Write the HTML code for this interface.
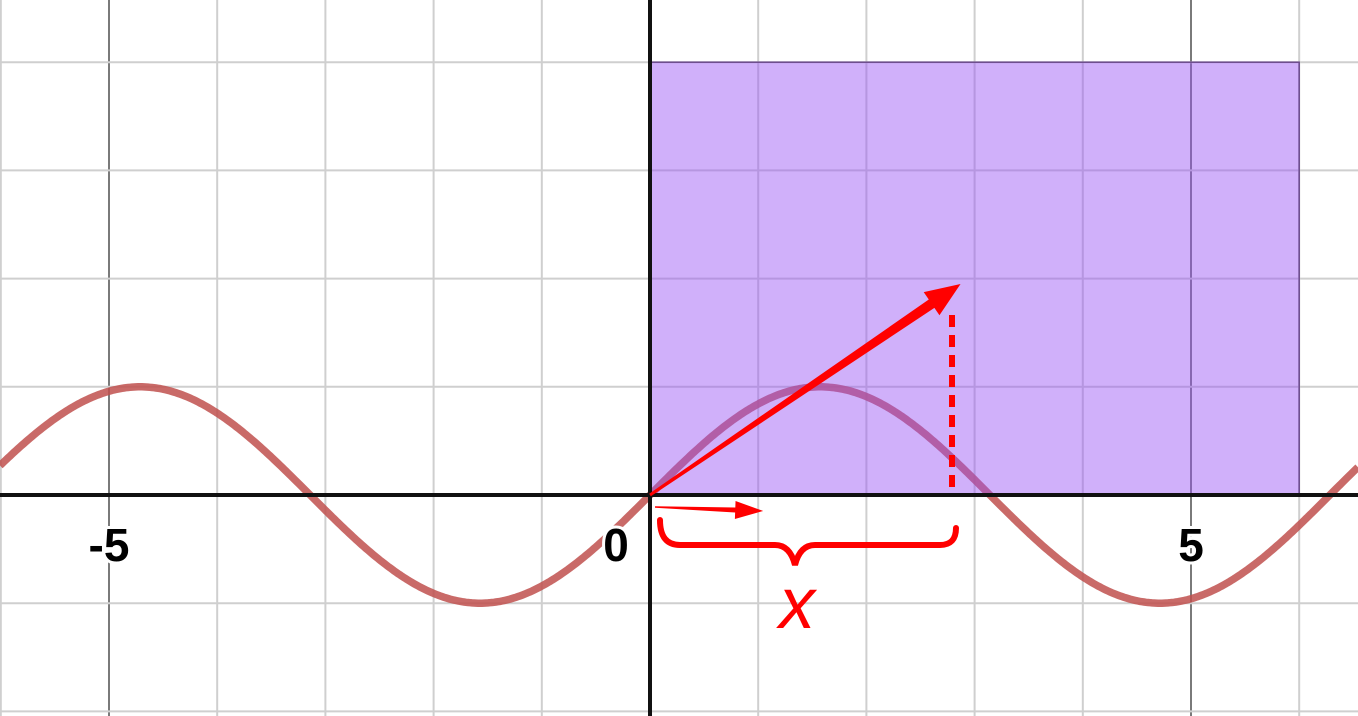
<!DOCTYPE html>
<html><head><meta charset="utf-8"><style>
html,body{margin:0;padding:0;background:#fff;width:1358px;height:716px;overflow:hidden}
svg{display:block;position:absolute;left:0;top:0}
text{font-family:"Liberation Sans",sans-serif}
</style></head><body>
<svg id="chart" width="1358" height="716" viewBox="0 0 1358 716">
<g id="grid"></g>
<g id="curve"></g>
<g id="rectg"></g>
<g id="axes"></g>
<g id="annot"></g>
</svg>
<script>
const xTicks=[-5,0,5];
const tickLabels=["-5","0","5"];
const rectX=[0,6];
const rectY=[0,4];
const vecEnd=[2.87,1.95];
const unitVec=[1,-0.1];
const ox=650, oy=495, ux=108.2, uy=108.2;
function X(v){return ox+v*ux}
function Y(v){return oy-v*uy}
const NS="http://www.w3.org/2000/svg";
function mk(tag,attrs,parent){const e=document.createElementNS(NS,tag);for(const k in attrs)e.setAttribute(k,attrs[k]);parent.appendChild(e);return e;}
const grid=document.getElementById('grid');
for(let i=-7;i<=7;i++){
  const major=(i%5===0);
  const l=mk('line',{x1:X(i),x2:X(i),y1:0,y2:716,stroke:major?'#7a7a7a':'#cfcfcf','stroke-width':2},grid);
  
  
}
for(let j=-2;j<=4;j++){
  const l=mk('line',{x1:0,x2:1358,y1:Y(j),y2:Y(j),stroke:'#cfcfcf','stroke-width':2},grid);
  
  
}
let d='';
for(let px=0;px<=1358;px+=2){const v=(px-ox)/ux;d+=(px?'L':'M')+px+','+Y(Math.sin(v)).toFixed(1);}
const cp=mk('path',{d:d,fill:'none',stroke:'#c0504d','stroke-width':7.5,'stroke-opacity':0.85},document.getElementById('curve'));


const r=mk('rect',{x:X(rectX[0]),y:Y(rectY[1]),width:X(rectX[1])-X(rectX[0]),height:Y(rectY[0])-Y(rectY[1]),fill:'rgba(150,80,245,0.45)',stroke:'#6a4a8a','stroke-width':1.5},document.getElementById('rectg'));


const ax=document.getElementById('axes');
const xa=mk('line',{x1:0,x2:1358,y1:oy,y2:oy,stroke:'#111','stroke-width':4},ax);


const ya=mk('line',{x1:ox,x2:ox,y1:0,y2:716,stroke:'#111','stroke-width':4},ax);


xTicks.forEach((t,i)=>{
  const tx=mk('text',{x:t===0?X(t)-34:X(t),y:561,'font-size':46,'text-anchor':'middle',fill:'#000',stroke:'#fff','stroke-width':6,'paint-order':'stroke','font-weight':'bold'},ax);
  tx.textContent=tickLabels[i];
  
  
});
const an=document.getElementById('annot');
function arrow(x1,y1,x2,y2,w,head,hw){
  const dx=x2-x1,dy=y2-y1,L=Math.hypot(dx,dy),ux_=dx/L,uy_=dy/L,nx=-uy_,ny=ux_;
  const bx=x2-ux_*head,by=y2-uy_*head;
  const pts=[[x1+nx*w*0.3,y1+ny*w*0.3],[bx+nx*w,by+ny*w],[bx+nx*hw,by+ny*hw],[x2,y2],[bx-nx*hw,by-ny*hw],[bx-nx*w,by-ny*w],[x1-nx*w*0.3,y1-ny*w*0.3]];
  return mk('polygon',{points:pts.map(p=>p.join(',')).join(' '),fill:'#ff0000'},an);
}
const a1=arrow(X(0),Y(0),X(vecEnd[0]),Y(vecEnd[1]),5,35,14);


const a2=arrow(X(0)+5,Y(0)+12,X(0)+5+unitVec[0]*ux,Y(0)+12-unitVec[1]*40,2.5,28,9);


const dl=mk('line',{x1:952,x2:952,y1:315,y2:495,stroke:'#ff0000','stroke-width':6,'stroke-dasharray':'12,8'},an);


const br=mk('path',{d:'M660,520 Q660,545 680,545 L775,545 Q790,545 795,565 Q800,545 815,545 L940,545 Q956,545 956,528',fill:'none',stroke:'#ff0000','stroke-width':6,'stroke-linecap':'round'},an);


const xl=mk('text',{x:797,y:628,'font-size':72,'font-style':'italic','font-family':'Liberation Serif, serif','text-anchor':'middle',fill:'#ff0000'},an);
xl.textContent='x';


</script>
</body></html>
